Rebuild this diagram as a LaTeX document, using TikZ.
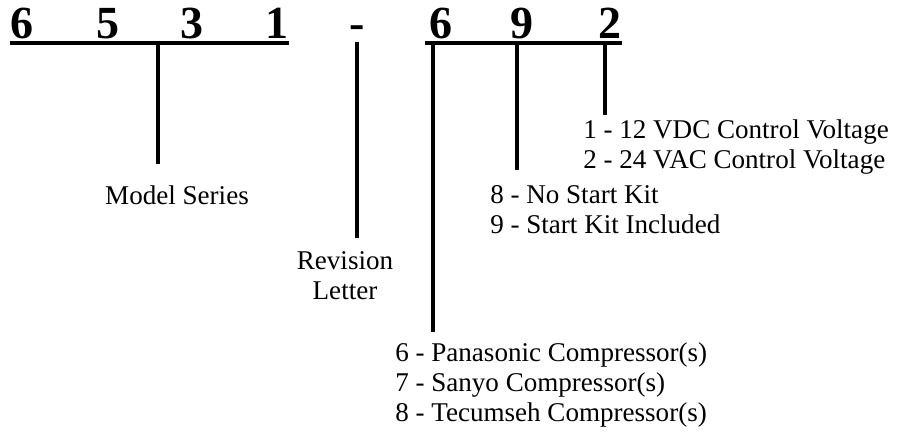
\documentclass[tikz,border=0pt]{standalone}
\usepackage{fontspec}
\setmainfont{Liberation Serif}
\begin{document}
\begin{tikzpicture}[
        % one unit = one pixel of the reference
        x=0.75pt, y=-0.75pt,
        % digits of the model number
        digit/.style={
            font=\fontsize{34.5}{40}\selectfont\bfseries,
            inner sep=0pt, anchor=base
        },
        % underlines and ticks
        bar/.style={
            line width=2.3pt
        },
        % explanation texts
        note/.style={
            font=\fontsize{20.3}{22.5}\selectfont,
            inner sep=0pt, align=left, anchor=west
        }
    ]
    \useasboundingbox (0,0) rectangle (898,437);

        % Model number
        \node[digit] (d1) at (21.5,38) {6};
        \node[digit] (d2) at (107.5,38) {5};
        \node[digit] (d3) at (191.5,38) {3};
        \node[digit] (d4) at (277,38) {1};
        \node[digit] (dash) at (357.5,38) {-};
        \node[digit] (d5) at (441,38) {6};
        \node[digit] (d6) at (522,38) {9};
        \node[digit] (d7) at (610,38) {2};

        % Underlines
        \draw[bar] (10,43) coordinate (ul1) -- (289,43) coordinate (ur1);
        \draw[bar] (425,43) coordinate (ul2) -- (622,43) coordinate (ur2);

        % Explanations
        \node[note, anchor=center] (model) at (177,195) {Model Series};
        \node[note, anchor=center, align=center] (rev) at (345,276) {Revision\\Letter};
        \node[note] (comp) at (395,385) {6 - Panasonic Compressor(s)\\7 - Sanyo Compressor(s)\\8 - Tecumseh Compressor(s)};
        \node[note] (kit) at (490,210) {8 - No Start Kit\\9 - Start Kit Included};
        \node[note] (volt) at (583,147.5) {1 - 12 VDC Control Voltage\\2 - 24 VAC Control Voltage};

        % Ticks down to the explanations
        \foreach \name/\x/\yend in {model/158/164, rev/357/238, comp/433/332, kit/517/170, volt/605/115} {
            \coordinate (\name top) at (\x,42);
            \coordinate (\name end) at (\x,\yend);
            \draw[bar] (\name top) -- (\name end);
        }

    \end{tikzpicture}
\end{document}
